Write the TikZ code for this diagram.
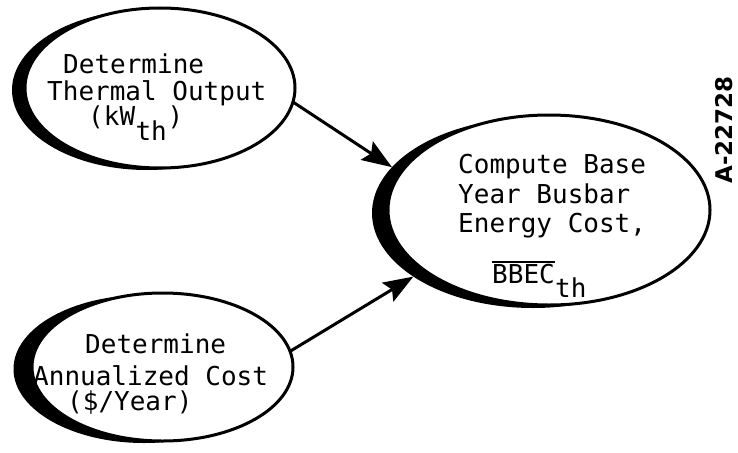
\documentclass[tikz,border=0pt]{standalone}
\usepackage{fontspec}
\setmonofont{DejaVu Sans Mono}
\newfontfamily\labelface{DejaVu Sans}
\usetikzlibrary{shapes.geometric,arrows.meta}

\tikzset{
  x=1pt, y=-1pt,
  backdisc/.style={ellipse, fill=black, inner sep=0pt, outer sep=0pt},
  stepdisc/.style={ellipse, draw=black, fill=white, line width=3pt, inner sep=0pt, outer sep=0pt},
  typed/.style={anchor=base west, inner sep=0pt, font=\ttfamily\fontsize{26}{30}\selectfont},
  flow/.style={line width=3pt, -{Stealth[length=30pt,width=22pt,inset=5pt]}},
}

\begin{document}
\begin{tikzpicture}
  \useasboundingbox (0,0) rectangle (738,452);

  % thermal output step
  \node[backdisc, minimum width=270pt, minimum height=160pt] (thermalback) at (147,90) {};
  \node[stepdisc, minimum width=270pt, minimum height=160pt] (thermal) at (160,88) {};
  \node[typed] (t1) at (63,74) {Determine};
  \node[typed] (t2) at (47,100) {Thermal Output};
  \node[typed] (t3) at (88,125) {(kW};
  \node[typed] (t4) at (t3.base east) [yshift=-15pt] {th};
  \node[typed] (t5) at (t3.base east) [xshift=32pt] {)};

  % annualized cost step
  \node[backdisc, minimum width=261pt, minimum height=148pt] (costback) at (144,369) {};
  \node[stepdisc, minimum width=261pt, minimum height=148pt] (cost) at (162.5,367) {};
  \node[typed] (c1) at (85,353) {Determine};
  \node[typed] (c2) at (33,385) {Annualized Cost};
  \node[typed] (c3) at (67,410) {(\$/Year)};

  % busbar energy cost step
  \node[backdisc, minimum width=322pt, minimum height=190pt] (bbecback) at (533,213) {};
  \node[stepdisc, minimum width=322pt, minimum height=190pt] (bbec) at (549,210) {};
  \node[typed] (b1) at (458,173) {Compute Base};
  \node[typed] (b2) at (458,203) {Year Busbar};
  \node[typed] (b3) at (458,232) {Energy Cost,};
  \node[typed] (b4) at (492,283) {BBEC};
  \node[typed] (b5) at (b4.base east) [yshift=-14pt] {th};
  \draw[line width=2pt] (b4.north west) ++(0,-2) coordinate (barl) -- (barl -| b4.north east);

  % connectors
  \draw[flow] (thermal.-6) -- (bbecback.162.6);
  \draw[flow] (cost.7.3) -- (bbecback.208.6);

  % drawing number
  \node[rotate=90, inner sep=0pt, font=\labelface\bfseries\fontsize{23}{26}\selectfont] (drawingno) at (724,130) {A-22728};
\end{tikzpicture}
\end{document}
